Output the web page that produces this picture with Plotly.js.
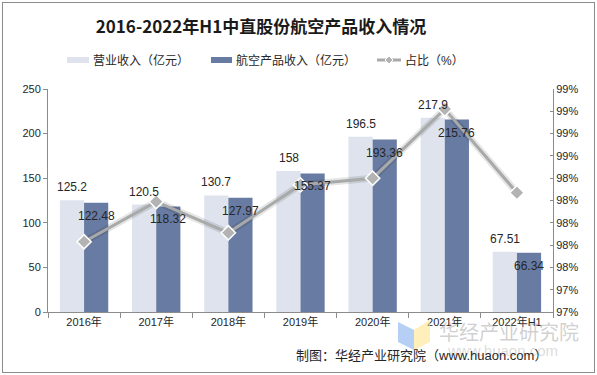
<!DOCTYPE html>
<html>
<head>
<meta charset="utf-8">
<script src="https://cdn.plot.ly/plotly-3.0.1.min.js"></script>
<style>
html,body{margin:0;padding:0;background:#fff;}
#wrap{position:relative;width:597px;height:375px;}
#chart{position:absolute;left:0;top:0;width:597px;height:375px;}
#border{position:absolute;left:2px;top:2px;width:591px;height:369px;border:1px solid #8c8c8c;pointer-events:none;}
</style>
</head>
<body>
<div id="wrap"><div id="chart"></div><div id="border"></div></div>
<script>
// ---- data ----
const categories = ['2016年','2017年','2018年','2019年','2020年','2021年','2022年H1'];
const revenue = [125.2, 120.5, 130.7, 158, 196.5, 217.9, 67.51];          // 营业收入（亿元）
const aviation = [122.48, 118.32, 127.97, 155.37, 193.36, 215.76, 66.34]; // 航空产品收入（亿元）
const share = [0.9783, 0.9819, 0.9791, 0.9834, 0.9840, 0.9902, 0.9827];  // 占比
const seriesNames = ['营业收入（亿元）', '航空产品收入（亿元）', '占比（%）'];
const titleText = '2016-2022年H1中直股份航空产品收入情况';
const sourceText = '制图：华经产业研究院（www.huaon.com）';

// ---- layout helpers (pixel -> paper) ----
const W = 597, H = 375;
const L = 48, R = 553, T = 89, B = 312;
const px = x => (x - L) / (R - L);
const py = y => (B - y) / (B - T);

const lightColor = '#DEE3ED';
const darkColor = '#687BA2';
const lineColor = '#A7AAA8';
const font = 'Liberation Sans, Arial, sans-serif';
const cjk = 'Liberation Sans, Noto Sans CJK SC, sans-serif';

const traces = [
  {type:'bar', x:categories, y:revenue, name:seriesNames[0], marker:{color:lightColor}, showlegend:false, hoverinfo:'skip'},
  {type:'bar', x:categories, y:aviation, name:seriesNames[1], marker:{color:darkColor}, showlegend:false, hoverinfo:'skip'},
  {type:'scatter', mode:'lines', x:categories, y:share, yaxis:'y2', showlegend:false, hoverinfo:'skip',
   line:{color:'rgba(0,0,0,0.10)', width:7}},
  {type:'scatter', mode:'lines+markers', x:categories, y:share, yaxis:'y2', name:seriesNames[2], showlegend:false,
   line:{color:lineColor, width:3},
   marker:{symbol:'diamond', size:11, color:'#B3B3B3', line:{color:'#ffffff', width:1.5}}}
];

const annotations = [];
categories.forEach((c, i) => {
  annotations.push({x:c, y:revenue[i], xref:'x', yref:'y', text:String(revenue[i]), showarrow:false,
    xshift:-12, yshift:4, yanchor:'bottom', font:{family:font, size:12, color:'#262626'}});
  annotations.push({x:c, y:aviation[i], xref:'x', yref:'y', text:String(aviation[i]), showarrow:false,
    xshift:12, yshift:-4, yanchor:'top', font:{family:font, size:12, color:'#262626'}});
});

// legend (custom)
const legendY = 60;
const shapes = [
  {type:'rect', xref:'paper', yref:'paper', x0:px(67), x1:px(89), y0:py(63), y1:py(57), fillcolor:lightColor, line:{width:0}},
  {type:'rect', xref:'paper', yref:'paper', x0:px(211), x1:px(232), y0:py(63), y1:py(57), fillcolor:darkColor, line:{width:0}},
  {type:'line', xref:'paper', yref:'paper', x0:px(377), x1:px(401), y0:py(legendY), y1:py(legendY), line:{color:lineColor, width:3}},
  {type:'path', xref:'paper', yref:'paper',
   path:`M ${px(389)} ${py(56)} L ${px(393)} ${py(60)} L ${px(389)} ${py(64)} L ${px(385)} ${py(60)} Z`,
   fillcolor:'#B3B3B3', line:{color:'#ffffff', width:1}},
  // watermark logo
  {type:'path', xref:'paper', yref:'paper',
   path:`M ${px(398)} ${py(322)} L ${px(414)} ${py(330)} L ${px(414)} ${py(350)} L ${px(398)} ${py(342)} Z`,
   fillcolor:'rgba(120,170,235,0.55)', line:{width:0}, layer:'above'},
  {type:'path', xref:'paper', yref:'paper',
   path:`M ${px(414)} ${py(330)} L ${px(430)} ${py(320)} L ${px(430)} ${py(342)} L ${px(414)} ${py(350)} Z`,
   fillcolor:'rgba(255,225,130,0.55)', line:{width:0}, layer:'above'}
];
annotations.push(
  {xref:'paper', yref:'paper', x:px(91), y:py(legendY), xanchor:'left', yanchor:'middle', text:seriesNames[0], showarrow:false, font:{family:cjk, size:12, color:'#262626'}},
  {xref:'paper', yref:'paper', x:px(234), y:py(legendY), xanchor:'left', yanchor:'middle', text:seriesNames[1], showarrow:false, font:{family:cjk, size:12, color:'#262626'}},
  {xref:'paper', yref:'paper', x:px(403), y:py(legendY), xanchor:'left', yanchor:'middle', text:seriesNames[2], showarrow:false, font:{family:cjk, size:12, color:'#262626'}},
  // watermark text
  {xref:'paper', yref:'paper', x:px(437), y:py(331), xanchor:'left', yanchor:'middle', text:'华经产业研究院', showarrow:false, font:{family:'Noto Sans CJK SC', size:20, color:'rgba(150,150,150,0.45)'}},
  {xref:'paper', yref:'paper', x:px(445), y:py(350), xanchor:'left', yanchor:'middle', text:'www.huaon.com', showarrow:false, font:{family:font, size:15, color:'rgba(150,150,150,0.35)'}},
  // source
  {xref:'paper', yref:'paper', x:px(549), y:py(355), xanchor:'right', yanchor:'middle', text:sourceText, showarrow:false, font:{family:cjk, size:13, color:'#262626'}}
);

const layout = {
  width: W, height: H,
  margin:{l:L, r:W-R, t:T, b:H-B, pad:0},
  paper_bgcolor:'#ffffff', plot_bgcolor:'#ffffff',
  title:{text:'<b>' + titleText + '</b>', x:261/W, xanchor:'center', xref:'container', y:1-27/H, yref:'container', yanchor:'middle',
    font:{family:'Noto Sans CJK SC, sans-serif', size:17, color:'#1a1a1a'}},
  barmode:'group', bargap:0.33, bargroupgap:0,
  showlegend:false,
  xaxis:{type:'category', showline:true, linecolor:'#8c8c8c', linewidth:1, ticks:'outside', tickson:'boundaries', ticklen:5, tickcolor:'#8c8c8c',
    tickfont:{family:cjk, size:11, color:'#262626'}, showgrid:false, zeroline:false, fixedrange:true},
  yaxis:{range:[0,250], dtick:50, showline:true, linecolor:'#8c8c8c', linewidth:1, ticks:'outside', ticklen:4, tickcolor:'#8c8c8c',
    tickfont:{family:font, size:11, color:'#262626'}, showgrid:false, zeroline:false, fixedrange:true},
  yaxis2:{overlaying:'y', side:'right', range:[0.972,0.992], dtick:0.002, tick0:0.972, tickformat:'.0%',
    showline:true, linecolor:'#8c8c8c', linewidth:1, ticks:'inside', ticklen:3, tickcolor:'#8c8c8c',
    tickfont:{family:font, size:11, color:'#262626'}, showgrid:false, zeroline:false, fixedrange:true},
  shapes: shapes,
  annotations: annotations
};

Plotly.newPlot('chart', traces, layout, {displayModeBar:false, staticPlot:true});
</script>
</body>
</html>
